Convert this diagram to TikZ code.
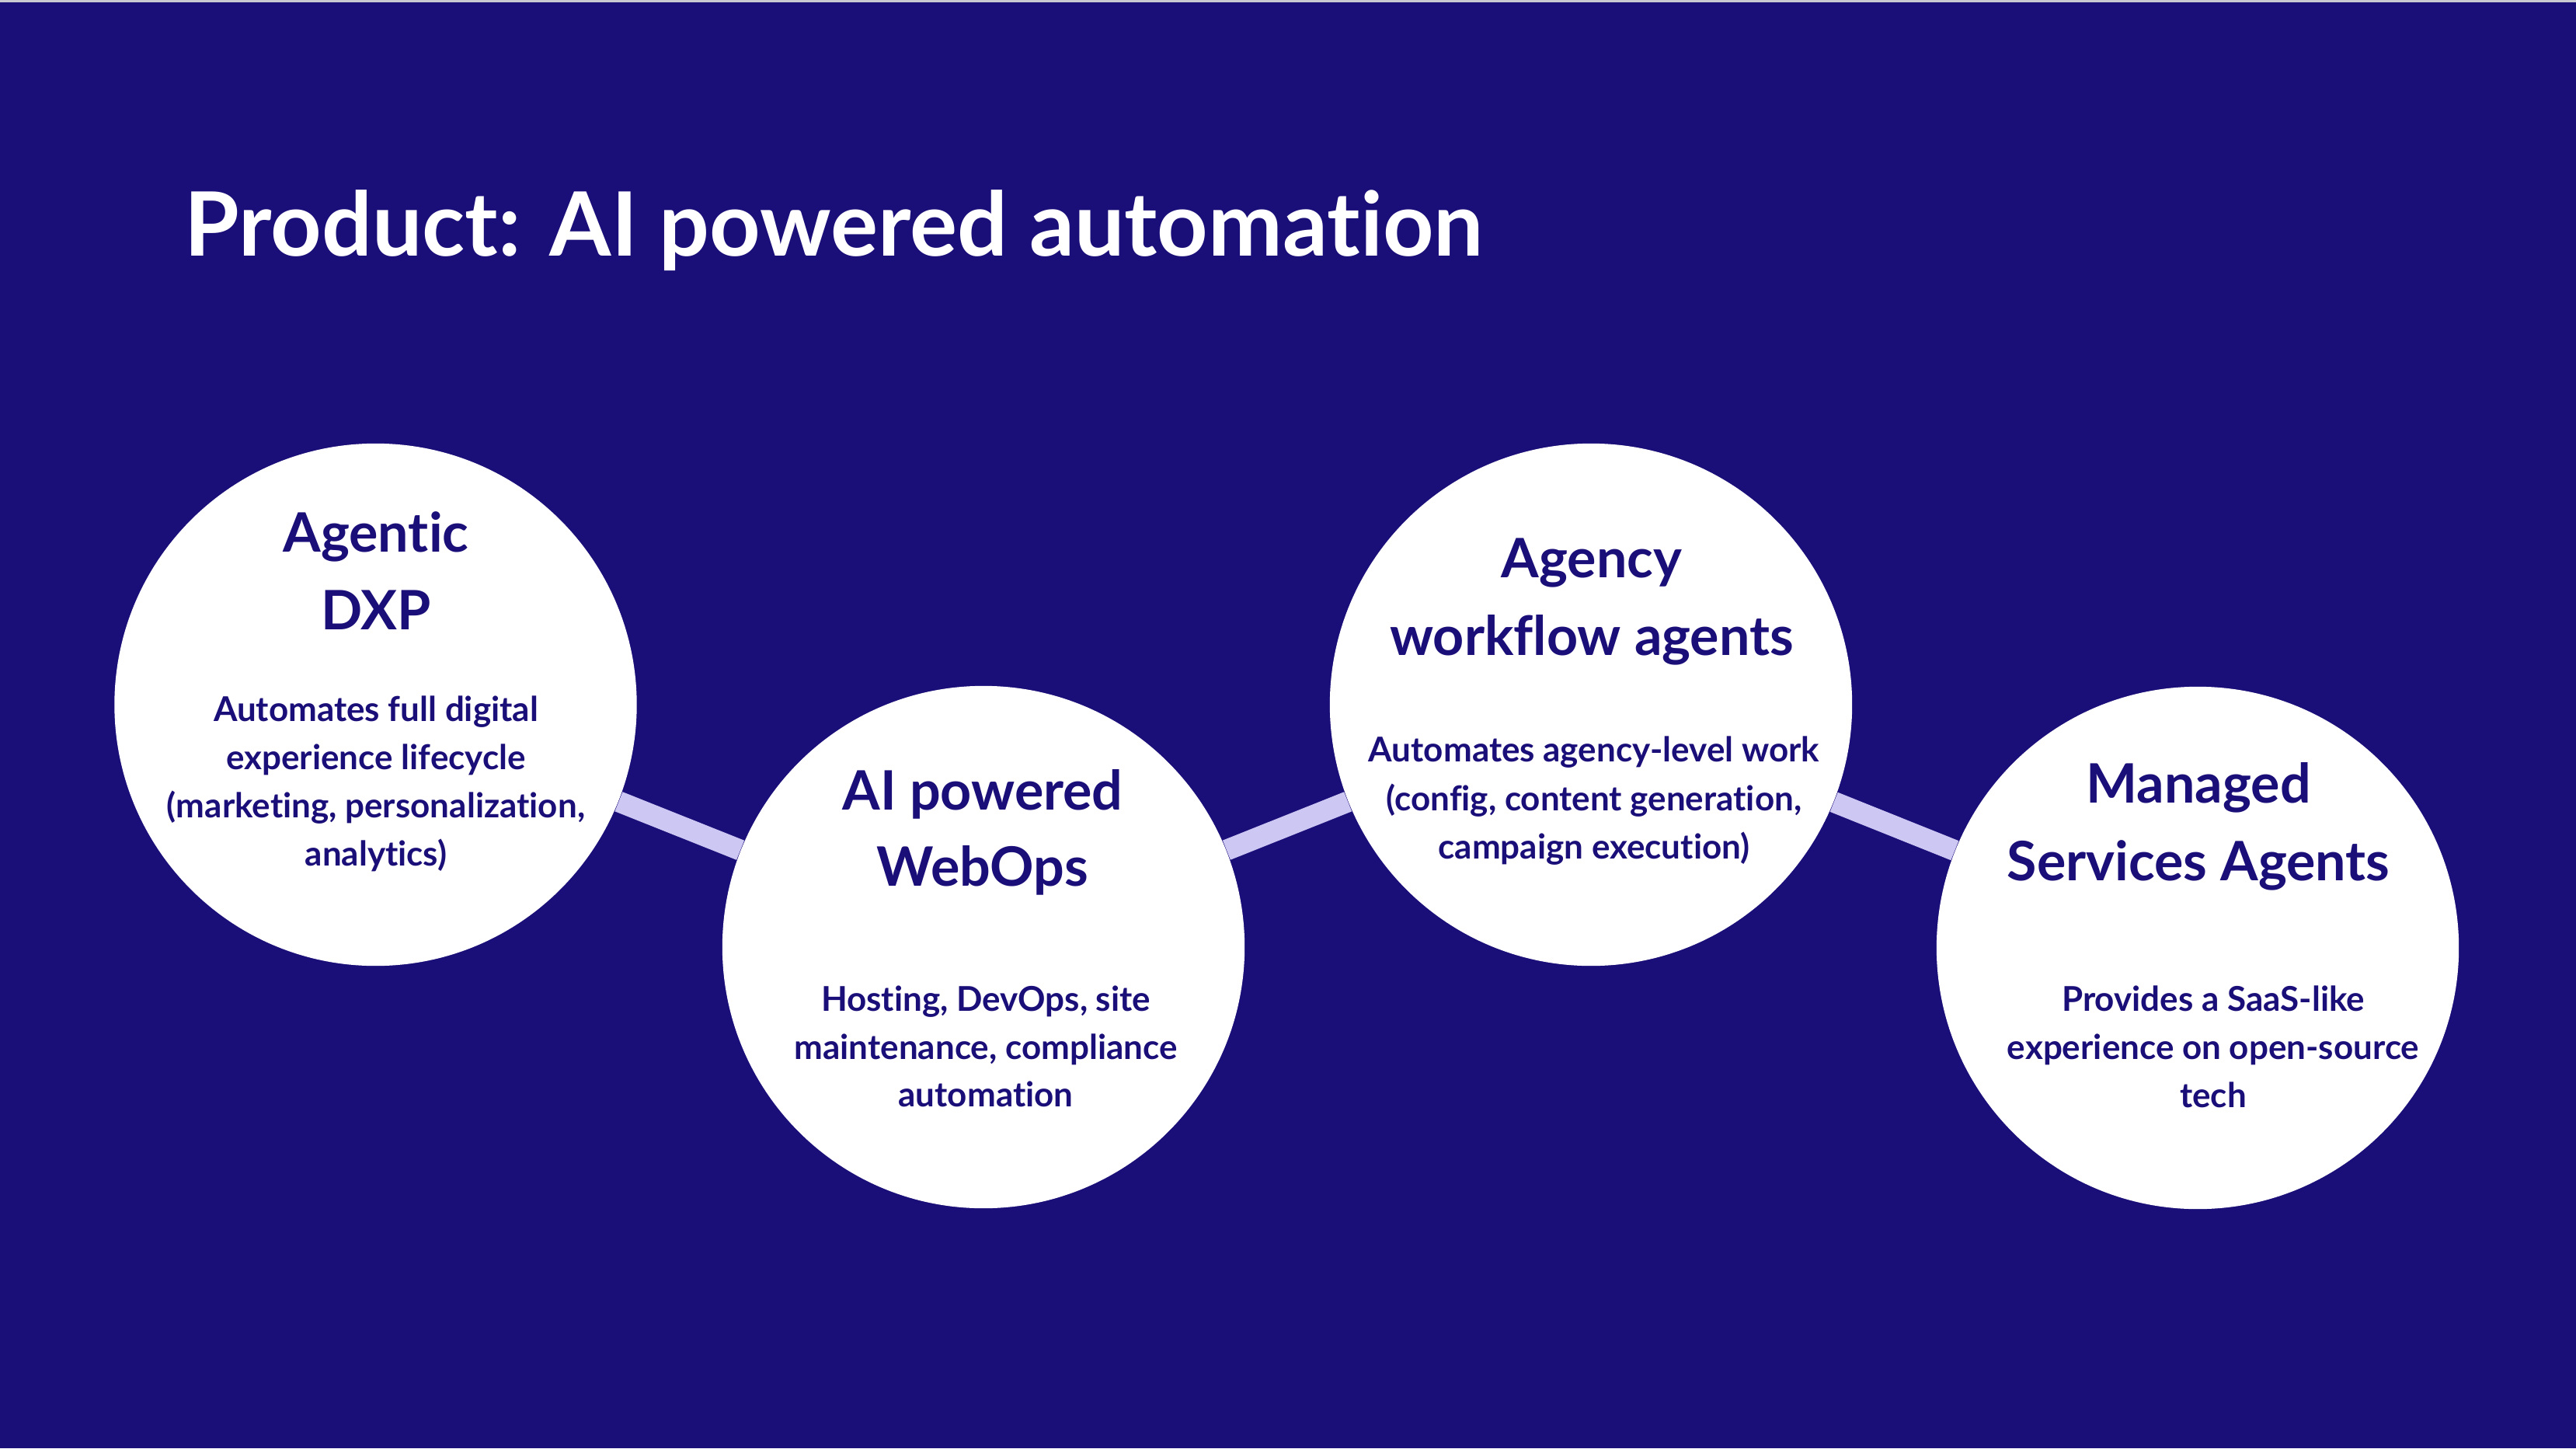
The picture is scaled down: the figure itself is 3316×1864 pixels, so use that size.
\documentclass[tikz,border=0pt]{standalone}
\usepackage{fontspec}
\setmainfont{Lato}[Ligatures={NoCommon}]
\definecolor{bg}{HTML}{1A0E78}
\definecolor{lav}{HTML}{CDC7F4}
\definecolor{topline}{HTML}{C9C9D2}
\begin{document}
\begin{tikzpicture}[x=0.01cm,y=-0.01cm,
  bubble/.style={circle, fill=white, minimum size=6.72cm, inner sep=0pt},
  conn/.style={draw=lav, line width=0.27cm},
  head/.style={anchor=base, text=bg, font=\bfseries\fontsize{19.9}{24}\selectfont, inner sep=0pt},
  body/.style={anchor=base, text=bg, font=\bfseries\fontsize{12.5}{15}\selectfont, inner sep=0pt},
  titletext/.style={anchor=base west, text=white, font=\bfseries\fontsize{32.5}{40}\selectfont, inner sep=0pt}]
\useasboundingbox (0,0) rectangle (3316,1864);
\fill[bg] (0,0) rectangle (3316,1864);
\fill[topline] (0,0) rectangle (3316,3);

\node[titletext] (title) at (237,330) {Product: AI powered automation};

\node[bubble] (c1) at (483.5,907) {};
\node[bubble] (c2) at (1266,1219) {};
\node[bubble] (c3) at (2048,907) {};
\node[bubble] (c4) at (2829,1220) {};

\draw[conn] (c1) -- (c2);
\draw[conn] (c2) -- (c3);
\draw[conn] (c3) -- (c4);

% circle 1
\node[head] (h1a) at (484,710) {Agentic};
\node[head] (h1b) at (484,810) {DXP};
\node[body] (b1a) at (484,928) {Automates full digital};
\node[body] (b1b) at (484,990) {experience lifecycle};
\node[body] (b1c) at (484,1052) {(marketing, personalization,};
\node[body] (b1d) at (484,1114) {analytics)};

% circle 2
\node[head] (h2a) at (1265,1042) {AI powered};
\node[head] (h2b) at (1265,1140) {WebOps};
\node[body] (b2a) at (1269,1301) {Hosting, DevOps, site};
\node[body] (b2b) at (1269,1363) {maintenance, compliance};
\node[body] (b2c) at (1269,1424) {automation};

% circle 3
\node[head] (h3a) at (2049,743) {Agency};
\node[head] (h3b) at (2049,843) {workflow agents};
\node[body] (b3a) at (2052,980) {Automates agency-level work};
\node[body] (b3b) at (2052,1043) {(config, content generation,};
\node[body] (b3c) at (2052,1105) {campaign execution)};

% circle 4
\node[head] (h4a) at (2830,1033) {Managed};
\node[head] (h4b) at (2830,1133) {Services Agents};
\node[body] (b4a) at (2849,1301) {Provides a SaaS-like};
\node[body] (b4b) at (2849,1363) {experience on open-source};
\node[body] (b4c) at (2849,1425) {tech};
\end{tikzpicture}
\end{document}
